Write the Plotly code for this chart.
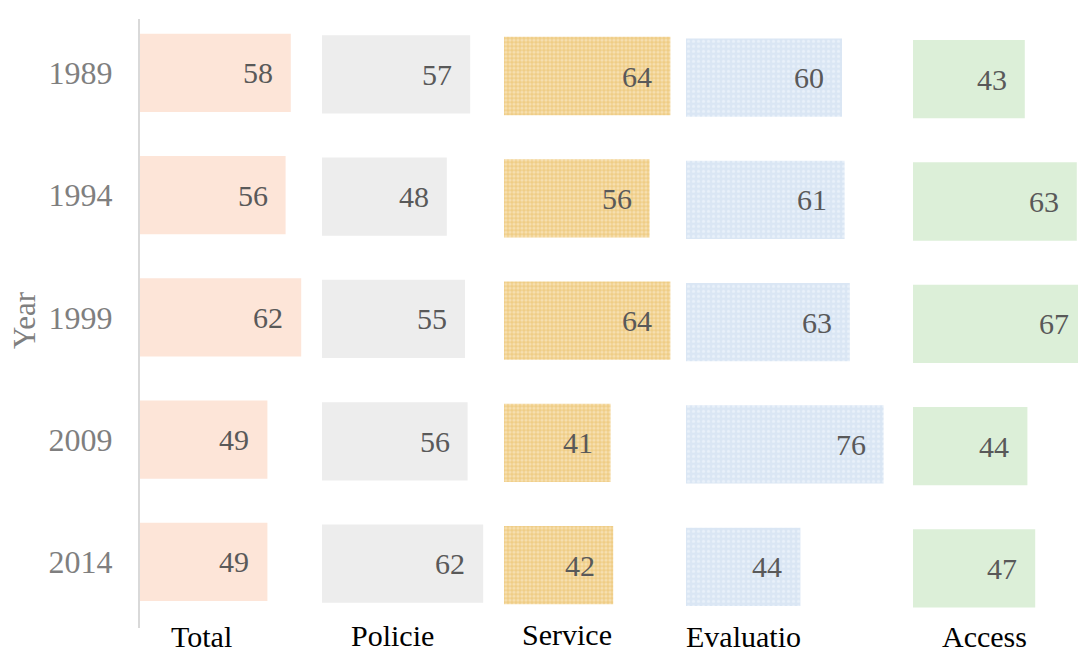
import plotly.graph_objects as go

years = ["1989", "1994", "1999", "2009", "2014"]
columns = ["Total", "Policie", "Service", "Evaluatio", "Access"]
total = [58, 56, 62, 49, 49]
policie = [57, 48, 55, 56, 62]
service = [64, 56, 64, 41, 42]
evaluatio = [60, 61, 63, 76, 44]
access = [43, 63, 67, 44, 47]
series = [total, policie, service, evaluatio, access]

W, H = 1130, 653   # canvas a bit wider than the window; window shows first 1078 px
FONT = "Liberation Serif, Times New Roman, serif"

colors = ["#FDE5D8", "#EDEDED", "#F2D596", "#DCE7F5", "#DCEFD8"]
patterns = [
    None,
    None,
    dict(shape=".", bgcolor="#EFCD86", fgcolor="#FDF2DA", size=4, solidity=0.5),
    dict(shape=".", bgcolor="#DAE6F4", fgcolor="#F5F9FD", size=5, solidity=0.3),
    None,
]

# layout geometry in px
col_start = [140, 322, 504, 686, 913]
px_per_unit = 2.6
label_x = [201, 393, 567, 743, 984]
label_y = [636, 635, 634, 636, 636]

fig = go.Figure()
for i, vals in enumerate(series):
    xa = "x" if i == 0 else f"x{i+1}"
    ya = "y" if i == 0 else f"y{i+1}"
    marker = dict(color=colors[i], line=dict(width=0))
    if patterns[i]:
        marker["pattern"] = patterns[i]
    fig.add_trace(go.Bar(
        x=vals, y=years, orientation="h", marker=marker, width=0.64,
        xaxis=xa, yaxis=ya, showlegend=False, hoverinfo="x+y"))
    for j, v in enumerate(vals):
        fig.add_annotation(x=v, y=j, xref=xa, yref=ya, text=str(v),
                           showarrow=False, xanchor="right", xshift=-16,
                           yanchor="middle",
                           font=dict(family=FONT, size=30, color="#595959"))

for i in range(5):
    shift = 1.6 * i
    x0 = col_start[i]
    x1 = x0 + 80 * px_per_unit
    rng = [0, 80]
    top = 19 + shift
    bot = 628 + shift
    xkey = "xaxis" if i == 0 else f"xaxis{i+1}"
    ykey = "yaxis" if i == 0 else f"yaxis{i+1}"
    fig.layout[xkey] = dict(domain=[x0 / W, x1 / W], range=rng, visible=False,
                            anchor="y" if i == 0 else f"y{i+1}")
    ydict = dict(domain=[(H - bot) / H, (H - top) / H], type="category",
                 categoryorder="array", categoryarray=years,
                 range=[4.54, -0.44], anchor="x" if i == 0 else f"x{i+1}",
                 showgrid=False, zeroline=False)
    if i == 0:
        ydict.update(showline=True, linecolor="#D9D9D9", linewidth=2,
                     ticks="", ticklabelstandoff=19,
                     tickfont=dict(family=FONT, size=32, color="#7F7F7F"))
    else:
        ydict.update(visible=False)
    fig.layout[ykey] = ydict

for i, name in enumerate(columns):
    fig.add_annotation(x=label_x[i] / W, y=(H - label_y[i]) / H, xref="paper", yref="paper",
                       text=name, showarrow=False, xanchor="center", yanchor="middle",
                       font=dict(family=FONT, size=30, color="#000000"))

fig.add_annotation(x=24 / W, y=(H - 320) / H, xref="paper", yref="paper",
                   text="Year", textangle=-90, showarrow=False,
                   xanchor="center", yanchor="middle",
                   font=dict(family=FONT, size=31, color="#7F7F7F"))

fig.update_layout(width=W, height=H, margin=dict(l=0, r=0, t=0, b=0),
                  plot_bgcolor="white", paper_bgcolor="white", bargap=0.36)

fig.write_html("out.html", config={"displayModeBar": False},
               post_script="document.body.style.margin='0';document.body.style.overflow='hidden';")
